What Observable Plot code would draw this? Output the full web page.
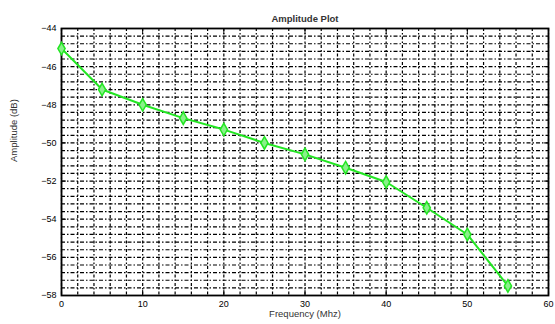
<!DOCTYPE html>
<html>
<head>
<meta charset="utf-8">
<script src="https://cdn.jsdelivr.net/npm/d3@7"></script>
<script src="https://cdn.jsdelivr.net/npm/@observablehq/plot@0.6"></script>
<style>
  html, body { margin: 0; padding: 0; background: #fff; }
  svg { display: block; }
</style>
</head>
<body>
<div id="chart"></div>
<script>
const title = "Amplitude Plot";
const xLabel = "Frequency (Mhz)";
const yLabel = "Amplitude (dB)";
const frequency = [0, 5, 10, 15, 20, 25, 30, 35, 40, 45, 50, 55];
const amplitude = [-45.05, -47.2, -48.0, -48.7, -49.3, -50.0, -50.6, -51.3, -52.05, -53.4, -54.8, -57.5];
const xTicks = [0, 10, 20, 30, 40, 50, 60];
const yTicks = [-44, -46, -48, -50, -52, -54, -56, -58];
const xGrid = d3.range(0, 60.01, 2);
const yGrid = d3.range(-58, -43.99, 0.4);

const data = frequency.map((f, i) => ({f, a: amplitude[i]}));
const green = "#22e622";
const fmt = d3.format("d");

const chart = Plot.plot({
  width: 555,
  height: 324,
  marginLeft: 61,
  marginRight: 7,
  marginTop: 28,
  marginBottom: 29,
  style: {fontFamily: "Liberation Sans, Arial, sans-serif", fontSize: "9px", color: "#000", background: "#fff"},
  x: {domain: [0, 60], ticks: xTicks},
  y: {domain: [-58, -44], ticks: yTicks},
  marks: [
    Plot.ruleX(xGrid, {x: d => d, stroke: "#000", strokeWidth: 1.2, strokeDasharray: "3,2,1.5,2"}),
    Plot.ruleY(yGrid, {y: d => d, stroke: "#000", strokeWidth: 1.2, strokeDasharray: "4,2,1.5,2"}),
    Plot.frame({stroke: "#000", strokeWidth: 1.8}),
    Plot.axisX({ticks: xTicks, tickSize: -5, tickPadding: 10, tickFormat: fmt, label: null}),
    Plot.axisX({anchor: "top", ticks: xTicks, tickSize: -5, tickFormat: () => "", label: null}),
    Plot.axisY({ticks: yTicks, tickSize: -5, tickPadding: 10, tickFormat: fmt, label: null}),
    Plot.axisY({anchor: "right", ticks: yTicks, tickSize: -5, tickFormat: () => "", label: null}),
    Plot.line(data, {x: "f", y: "a", stroke: green, strokeWidth: 2}),
    Plot.dot(data, {x: "f", y: "a", symbol: "diamond", r: 3.8, fill: "#8af08a", stroke: green, strokeWidth: 1.5}),
    Plot.text([title], {frameAnchor: "top", dy: -13, text: d => d, fontSize: 9.5, fontWeight: "bold", fill: "#333"}),
    Plot.text([xLabel], {frameAnchor: "bottom", dy: 21, text: d => d, fontSize: 9.5, fill: "#333"}),
    Plot.text([yLabel], {frameAnchor: "left", dx: -48, rotate: -90, text: d => d, fontSize: 9.5, fill: "#333"})
  ]
});
document.getElementById("chart").appendChild(chart);
</script>
</body>
</html>
